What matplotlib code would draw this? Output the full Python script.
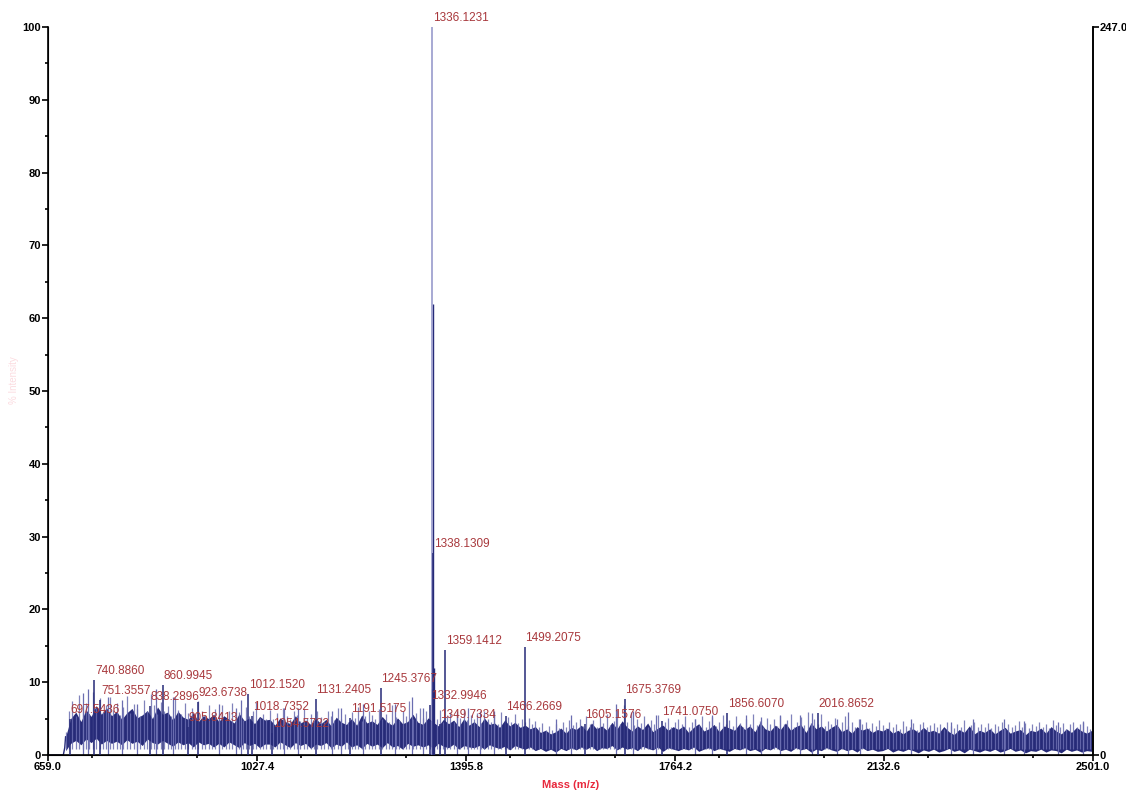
import numpy as np
import matplotlib
matplotlib.use("Agg")
import matplotlib.pyplot as plt
from matplotlib.ticker import MultipleLocator

plt.rcParams['font.family'] = ['Liberation Sans', 'DejaVu Sans']

# labelled peaks (m/z, % intensity)
peak_mz = [697.5436, 740.8860, 751.3557, 838.2896, 860.9945, 905.8413, 923.6738,
           1012.1520, 1018.7352, 1054.5722, 1131.2405, 1191.5175, 1245.3767,
           1332.9946, 1336.1231, 1338.1309, 1349.7334, 1359.1412, 1466.2669,
           1499.2075, 1605.1576, 1675.3769, 1741.0750, 1856.6070, 2016.8652]
peak_int = [4.9, 10.3, 7.6, 6.7, 9.6, 3.8, 7.3,
            8.4, 5.4, 3.0, 7.7, 5.1, 9.2,
            6.9, 100.0, 27.7, 4.3, 14.4, 5.4,
            14.8, 4.3, 7.7, 4.7, 5.8, 5.8]

# isotope shoulder of the base peak
iso_mz = [1335.12, 1337.12, 1339.13]
iso_int = [9.0, 62.0, 12.0]

# other unlabelled spikes
spike_mz = [720, 730, 765, 790, 815, 850, 880, 960, 990, 1000, 1075, 1100, 1160,
            1175, 1215, 1270, 1300, 1320, 1380, 1400, 1420, 1445, 1555, 1580, 1660,
            1690, 1730, 1800, 1830, 1890, 1915, 1950, 1985, 2005, 2050, 2069, 2090,
            2180, 2250, 2290, 2344, 2380, 2440, 2483]
spike_int = [8.5, 9.0, 8.0, 7.5, 7.0, 9.0, 8.0, 7.0, 6.5, 7.5, 6.5, 6.5, 6.0,
             6.5, 7.0, 7.0, 8.0, 6.5, 6.0, 6.5, 6.0, 6.0, 5.0, 5.5, 7.0,
             6.0, 5.5, 5.0, 5.5, 5.5, 5.2, 5.5, 5.5, 5.8, 5.0, 5.9, 4.9,
             5.0, 4.5, 5.0, 4.9, 4.7, 4.5, 4.5]

# dense noise band, sampled every 9 m/z from 690
noise_start = 690.0
noise_step = 9.0
noise_top = [
    2.5, 5.0, 5.9, 4.6, 6.2, 5.3, 6.8, 5.6, 6.5, 5.4,
    6.0, 4.9, 5.8, 6.4, 5.1, 5.5, 6.1, 5.0, 6.6, 5.6,
    5.9, 4.8, 6.0, 5.2, 4.9, 5.8, 4.6, 5.4, 5.0, 5.6,
    4.6, 5.4, 4.9, 4.4, 5.7, 4.7, 5.1, 4.3, 5.3, 4.8,
    4.9, 4.1, 5.1, 4.6, 4.3, 5.4, 4.4, 4.8, 4.2, 5.0,
    4.3, 4.9, 4.0, 5.2, 4.5, 4.2, 5.0, 4.1, 5.5, 4.4,
    4.7, 4.2, 5.3, 4.5, 4.1, 5.1, 4.3, 4.6, 5.6, 4.5,
    4.2, 5.1, 4.5, 4.0, 4.9, 4.3, 4.8, 3.9, 5.0, 4.1,
    4.6, 3.9, 5.1, 4.2, 4.4, 3.8, 4.8, 4.0, 4.5, 3.8,
    4.1, 3.6, 3.9, 3.1, 3.4, 2.9, 3.2, 3.7, 3.0, 3.8,
    3.5, 4.1, 3.3, 4.4, 3.6, 4.0, 3.4, 4.5, 3.6, 4.7,
    3.8, 3.3, 4.0, 3.5, 4.4, 3.2, 3.7, 4.1, 3.4, 3.9,
    3.5, 4.0, 3.1, 3.8, 4.3, 3.3, 3.6, 4.2, 3.2, 4.0,
    3.7, 3.4, 4.3, 3.5, 4.0, 3.2, 4.5, 3.6, 3.3, 4.1,
    3.5, 4.4, 3.4, 3.9, 4.2, 3.1, 4.4, 3.6, 4.0, 3.3,
    3.8, 4.2, 3.2, 3.6, 3.0, 3.9, 3.4, 3.7, 3.1, 3.5,
    3.3, 3.7, 3.0, 3.4, 2.9, 3.4, 3.6, 3.1, 3.8, 3.2,
    3.4, 3.0, 3.9, 3.2, 2.8, 3.5, 3.1, 4.0, 2.9, 3.4,
    3.1, 3.6, 2.9, 3.4, 3.8, 3.0, 3.3, 3.5, 2.8, 3.4,
    3.2, 3.7, 3.0, 3.9, 3.3, 2.9, 3.6, 3.1, 3.8, 3.3,
    3.0, 3.4]
noise_bottom = [
    0.6, 1.6, 2.0, 1.4, 2.2, 1.7, 2.3, 1.5, 2.0, 1.6,
    1.9, 1.4, 2.1, 1.6, 1.9, 1.3, 2.2, 1.7, 1.5, 2.0,
    1.6, 1.2, 1.8, 1.4, 1.7, 1.1, 1.8, 1.4, 1.6, 1.1,
    1.6, 1.1, 1.8, 1.4, 1.0, 1.7, 1.3, 1.6, 1.0, 1.5,
    1.5, 1.1, 1.8, 1.4, 1.0, 1.7, 1.3, 1.6, 0.9, 1.5,
    1.3, 1.7, 1.0, 1.5, 1.2, 1.8, 1.1, 1.4, 0.9, 1.6,
    1.2, 1.5, 1.0, 1.7, 1.1, 1.3, 0.8, 1.6, 1.2, 1.4,
    1.1, 1.4, 0.9, 1.6, 1.2, 1.0, 1.5, 0.8, 1.3, 1.1,
    1.0, 1.3, 0.8, 1.4, 1.1, 0.9, 1.2, 0.7, 1.3, 1.0,
    0.8, 1.1, 0.6, 0.9, 0.5, 0.8, 0.4, 0.9, 0.6, 1.0,
    0.7, 1.1, 0.8, 1.2, 0.6, 1.0, 0.9, 1.3, 0.7, 1.1,
    0.8, 1.0, 0.6, 1.2, 0.9, 0.7, 1.1, 0.5, 1.0, 0.8,
    0.6, 0.9, 0.7, 1.1, 0.5, 0.8, 1.0, 0.6, 0.9, 0.7,
    0.5, 0.9, 0.7, 1.0, 0.6, 0.8, 0.4, 0.9, 0.7, 1.1,
    0.6, 0.8, 0.5, 1.0, 0.7, 0.9, 0.4, 0.8, 0.6, 1.0,
    0.7, 0.5, 0.9, 0.6, 0.8, 0.4, 1.0, 0.6, 0.8, 0.5,
    0.6, 0.9, 0.4, 0.7, 0.5, 0.8, 0.6, 0.3, 0.7, 0.5,
    0.8, 0.4, 0.6, 0.9, 0.5, 0.7, 0.3, 0.8, 0.6, 0.4,
    0.7, 0.5, 0.8, 0.4, 0.6, 0.9, 0.5, 0.7, 0.3, 0.6,
    0.5, 0.8, 0.4, 0.7, 0.6, 0.3, 0.8, 0.5, 0.7, 0.4,
    0.6, 0.5]

# fine sticks poking out of the band, every 6 m/z from 690
fine_start = 690.0
fine_step = 6.0
fine_int = [
    3.2, 6.1, 7.4, 5.3, 8.2, 6.0, 7.1, 5.6, 8.6, 6.4, 7.8, 5.9, 6.9, 8.0, 6.2,
    7.2, 5.5, 6.6, 8.1, 5.8, 7.0, 6.3, 5.4, 7.6, 6.1, 8.4, 6.8, 5.7, 7.3, 6.0,
    6.7, 5.3, 7.9, 6.2, 5.6, 7.1, 5.8, 6.5, 5.2, 7.4, 6.0, 5.5, 6.9, 5.1, 6.3,
    5.6, 6.8, 5.0, 6.1, 7.2, 5.4, 5.9, 4.8, 6.6, 5.3, 6.0, 7.3, 5.1, 5.7, 4.9,
    6.2, 5.0, 5.8, 4.6, 6.5, 5.3, 4.9, 6.0, 5.5, 4.7, 6.3, 5.1, 5.7, 4.8, 6.1,
    5.2, 4.6, 6.0, 5.4, 4.8, 6.4, 5.0, 5.6, 4.5, 5.9, 5.1, 6.6, 4.7, 5.3, 6.1,
    5.5, 4.9, 6.3, 5.0, 5.7, 4.6, 6.8, 5.2, 4.8, 6.1, 5.4, 7.4, 5.0, 5.8, 6.4,
    5.1, 6.0, 4.7, 5.6, 5.0, 6.2, 4.5, 5.4, 5.9, 4.6, 5.7, 5.1, 6.3, 4.8, 5.5,
    4.9, 5.8, 4.4, 6.1, 5.0, 4.6, 5.5, 4.3, 5.9, 4.8, 5.2, 4.5, 5.6, 4.4, 5.0,
    4.6, 5.1, 4.2, 4.7, 3.8, 4.4, 3.5, 4.0, 3.4, 4.3, 3.7, 4.6, 3.9, 4.8, 4.1,
    4.5, 5.0, 4.0, 5.4, 4.3, 4.8, 3.9, 5.2, 4.4, 5.6, 4.1, 4.7, 6.2, 4.3, 6.8,
    4.6, 5.9, 4.1, 5.0, 4.4, 5.3, 3.9, 4.8, 4.2, 5.5, 4.0, 4.6, 5.1, 3.8, 4.5,
    4.9, 4.2, 5.3, 3.9, 4.6, 5.0, 4.1, 5.4, 3.8, 4.7, 5.2, 4.0, 4.5, 5.5, 4.3,
    4.8, 4.0, 5.3, 4.4, 3.9, 5.0, 4.2, 5.6, 4.1, 4.7, 3.8, 5.1, 4.3, 4.9, 4.0,
    5.4, 4.2, 4.8, 5.7, 3.9, 4.6, 5.2, 4.1, 5.9, 4.4, 5.0, 4.3, 5.6, 4.0, 4.7,
    4.3, 5.1, 3.9, 4.6, 5.3, 4.0, 4.5, 3.8, 4.9, 4.2, 4.6, 3.7, 4.4, 4.0, 4.8,
    4.1, 3.7, 4.5, 3.9, 4.3, 3.6, 4.7, 4.0, 3.8, 4.4, 3.5, 4.2, 4.6, 3.9, 4.1,
    4.4, 3.8, 4.2, 3.6, 4.6, 4.0, 3.7, 4.3, 3.9, 4.8, 3.6, 4.1, 4.5, 3.8, 4.2,
    3.9, 4.4, 3.7, 4.2, 4.0, 4.6, 3.6, 4.3, 3.8, 4.1, 4.7, 3.9, 4.4, 3.7, 4.2,
    4.0, 4.5, 3.8, 4.3, 3.7, 4.8, 4.1, 3.9, 4.4, 3.6, 4.2, 4.6, 3.8, 4.3, 4.7,
    4.0, 3.6]

lead_mz = [659.0, 686.0, 688.5]
lead_int = [0.0, 0.0, 1.0]

x_ticks = [659.0, 1027.4, 1395.8, 1764.2, 2132.6, 2501.0]
right_max = 247.0

navy = '#262a78'
lavender = '#6a6db0'
label_red = '#a8383c'

fig = plt.figure(figsize=(11.26, 7.9), dpi=100)
ax = fig.add_axes([48 / 1126, 35 / 790, 1045 / 1126, 728 / 790])

# dense noise band
band_x = noise_start + noise_step * np.arange(len(noise_top))
ax.fill_between(band_x, noise_bottom, noise_top, color=navy, lw=0, zorder=2)
ax.plot(lead_mz + [noise_start], lead_int + [noise_top[0]], color=navy, lw=1.0, zorder=2)

# fine sticks
fine_x = fine_start + fine_step * np.arange(len(fine_int))
ax.vlines(fine_x, 0.8, fine_int, color=lavender, lw=0.9, alpha=0.85, zorder=2)

ax.vlines(spike_mz, 0, spike_int, color=lavender, lw=0.9, zorder=2)
ax.vlines(iso_mz, 0, iso_int, color=navy, lw=1.0, zorder=3)
for mz, it in zip(peak_mz, peak_int):
    col = '#8f92c8' if it >= 99 else navy
    ax.vlines(mz, 0, it, color=col, lw=1.1, zorder=3)
    ax.text(mz + 1, it + 0.4, f'{mz:.4f}', color=label_red, fontsize=8.5,
            ha='left', va='bottom', zorder=4)

ax.set_xlim(659.0, 2501.0)
ax.set_ylim(0, 100)
ax.set_xticks(x_ticks)
ax.set_xticklabels([f'{t:.1f}' for t in x_ticks])
ax.xaxis.set_minor_locator(MultipleLocator((x_ticks[1] - x_ticks[0]) / 2))
ax.yaxis.set_major_locator(MultipleLocator(10))
ax.yaxis.set_minor_locator(MultipleLocator(5))
ax.tick_params(axis='both', which='major', length=4, width=1.2, labelsize=8, pad=1)
ax.tick_params(axis='both', which='minor', length=2, width=1.2)
for lab in ax.get_xticklabels() + ax.get_yticklabels():
    lab.set_fontweight('bold')
ax.spines['top'].set_visible(False)
for s in ['left', 'bottom', 'right']:
    ax.spines[s].set_linewidth(1.2)

ax2 = ax.twinx()
ax2.set_ylim(0, right_max)
ax2.set_yticks([0, right_max])
ax2.set_yticklabels(['0', f'{right_max:.1f}'])
ax2.tick_params(axis='y', length=4, width=1.2, labelsize=8, pad=1)
for lab in ax2.get_yticklabels():
    lab.set_fontweight('bold')
ax2.spines['top'].set_visible(False)
ax2.spines['right'].set_linewidth(1.2)

ax.set_xlabel('Mass (m/z)', color='#e8283c', fontsize=8, fontweight='bold', labelpad=6)
fig.text(14 / 1126, 1 - 380 / 790, '% Intensity', color='#f07080', alpha=0.25,
         fontsize=7, rotation=90, ha='center', va='center')

fig.savefig('out.png', dpi=100)
